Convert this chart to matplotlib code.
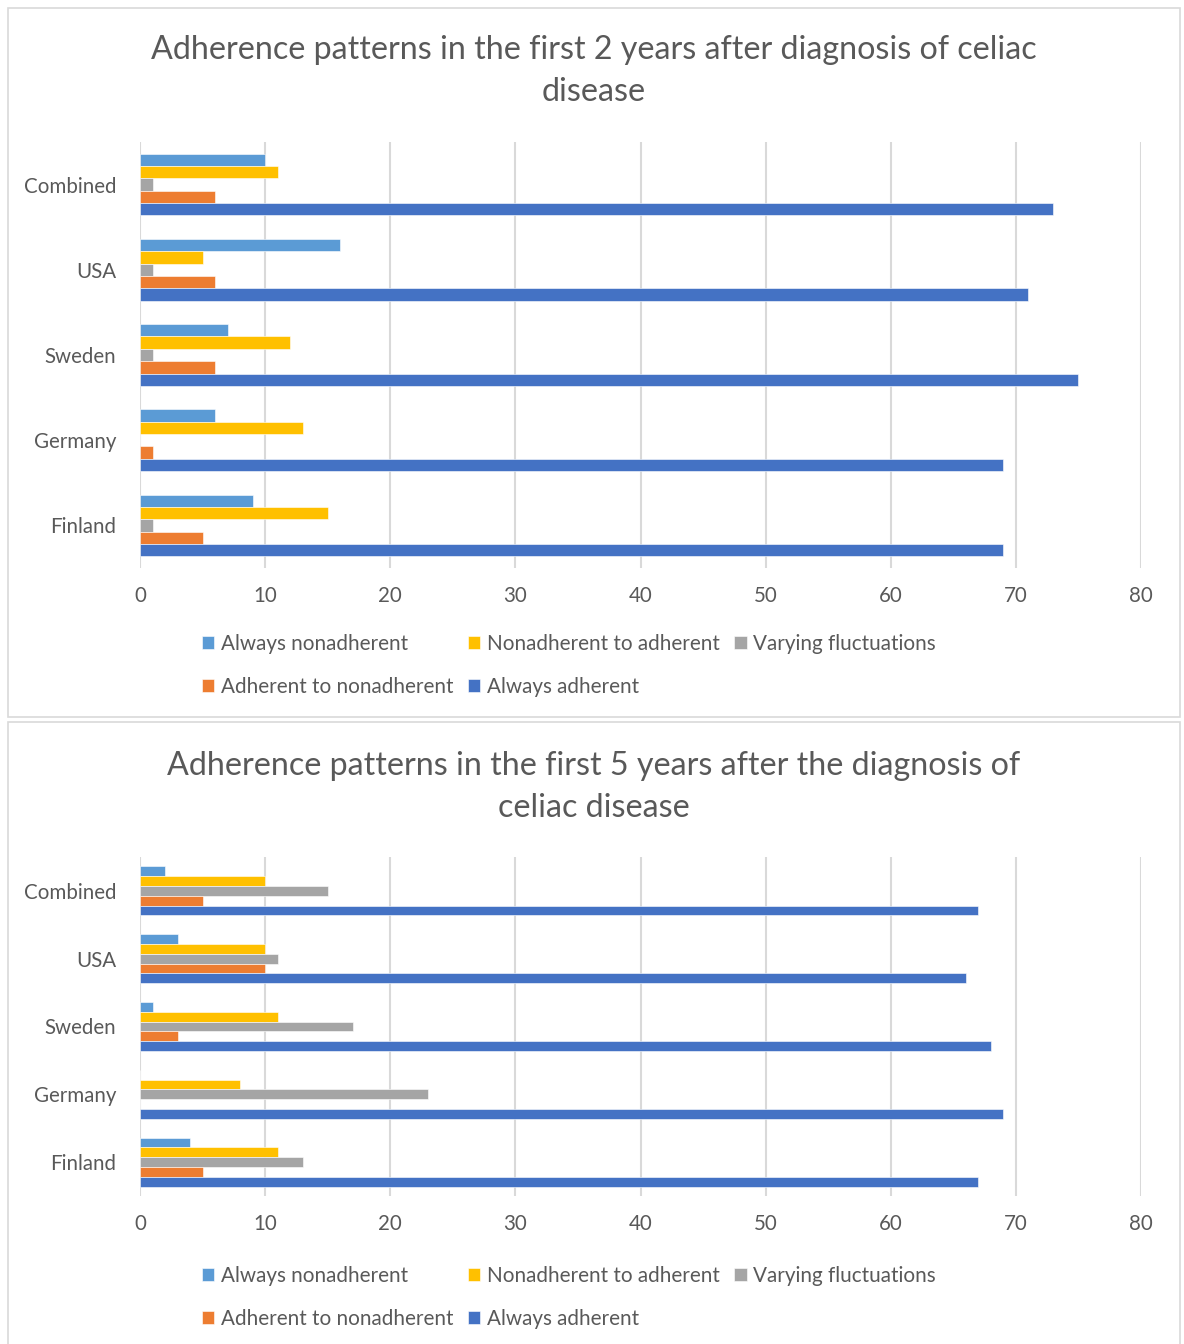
import numpy as np
import matplotlib
matplotlib.use("Agg")
import matplotlib.pyplot as plt
from matplotlib.patches import Rectangle

plt.rcParams['font.family'] = ['Lato', 'DejaVu Sans']

# data
countries = ["Combined", "USA", "Sweden", "Germany", "Finland"]
series = ["Always nonadherent", "Nonadherent to adherent", "Varying fluctuations",
          "Adherent to nonadherent", "Always adherent"]
colors = ["#5B9BD5", "#FFC000", "#A5A5A5", "#ED7D31", "#4472C4"]

# first 2 years
always_non_2y = [10, 16, 7, 6, 9]
non_to_adh_2y = [11, 5, 12, 13, 15]
varying_2y = [1, 1, 1, 0, 1]
adh_to_non_2y = [6, 6, 6, 1, 5]
always_adh_2y = [73, 71, 75, 69, 69]

# first 5 years
always_non_5y = [2, 3, 1, 0, 4]
non_to_adh_5y = [10, 10, 11, 8, 11]
varying_5y = [15, 11, 17, 23, 13]
adh_to_non_5y = [5, 10, 3, 0, 5]
always_adh_5y = [67, 66, 68, 69, 67]

titles = ["Adherence patterns in the first 2 years after diagnosis of celiac\ndisease",
          "Adherence patterns in the first 5 years after the diagnosis of\nceliac disease"]

W, H = 1184, 1344
fig = plt.figure(figsize=(W / 100, H / 100), dpi=100)

txt = "#595959"
grid = "#D9D9D9"

# panel frames
for (y0, y1) in [(8, 717), (722, 1350)]:
    fig.patches.append(Rectangle((8 / W, 1 - y1 / H), 1172 / W, (y1 - y0) / H,
                                 transform=fig.transFigure, fill=False,
                                 edgecolor=grid, linewidth=1.2))


def draw(ax_box, data, title, title_y, legend_y):
    left, top, right, bottom = ax_box
    ax = fig.add_axes([left / W, 1 - bottom / H, (right - left) / W, (bottom - top) / H])
    y = np.arange(len(countries))
    h = 0.145
    for i, (vals, c, name) in enumerate(zip(data, colors, series)):
        ax.barh(y + (i - 2) * h, vals, height=h, color=c, label=name,
                edgecolor="white", linewidth=0.4)
    ax.set_xlim(0, 80)
    ax.set_ylim(len(countries) - 0.5, -0.5)
    ax.set_xticks(np.arange(0, 81, 10))
    ax.set_yticks(y)
    ax.set_yticklabels(countries)
    ax.tick_params(length=0, labelsize=14.8, colors=txt)
    ax.tick_params(axis='y', pad=17)
    ax.tick_params(axis='x', pad=13)
    ax.grid(axis='x', color=grid, linewidth=1.5)
    ax.set_axisbelow(True)
    for s in ax.spines.values():
        s.set_visible(False)
    fig.text(594 / W, 1 - title_y / H, title, ha='center', va='center',
             fontsize=23.2, color=txt, linespacing=1.5)
    handles, labels = ax.get_legend_handles_labels()
    order = [0, 3, 1, 4, 2]
    fig.legend([handles[k] for k in order], [labels[k] for k in order],
               loc='upper left', bbox_to_anchor=(202 / W, 1 - legend_y / H),
               ncol=3, frameon=False, fontsize=14.9, labelcolor=txt,
               handlelength=0.6, handleheight=0.6, handletextpad=0.3,
               columnspacing=0.72, labelspacing=1.12, borderpad=0, borderaxespad=0)
    return ax


draw((140, 142, 1141, 568),
     [always_non_2y, non_to_adh_2y, varying_2y, adh_to_non_2y, always_adh_2y],
     titles[0], 71, 634)
draw((140, 857, 1141, 1196),
     [always_non_5y, non_to_adh_5y, varying_5y, adh_to_non_5y, always_adh_5y],
     titles[1], 787, 1266)

fig.savefig("out.png", dpi=100, facecolor="white")
